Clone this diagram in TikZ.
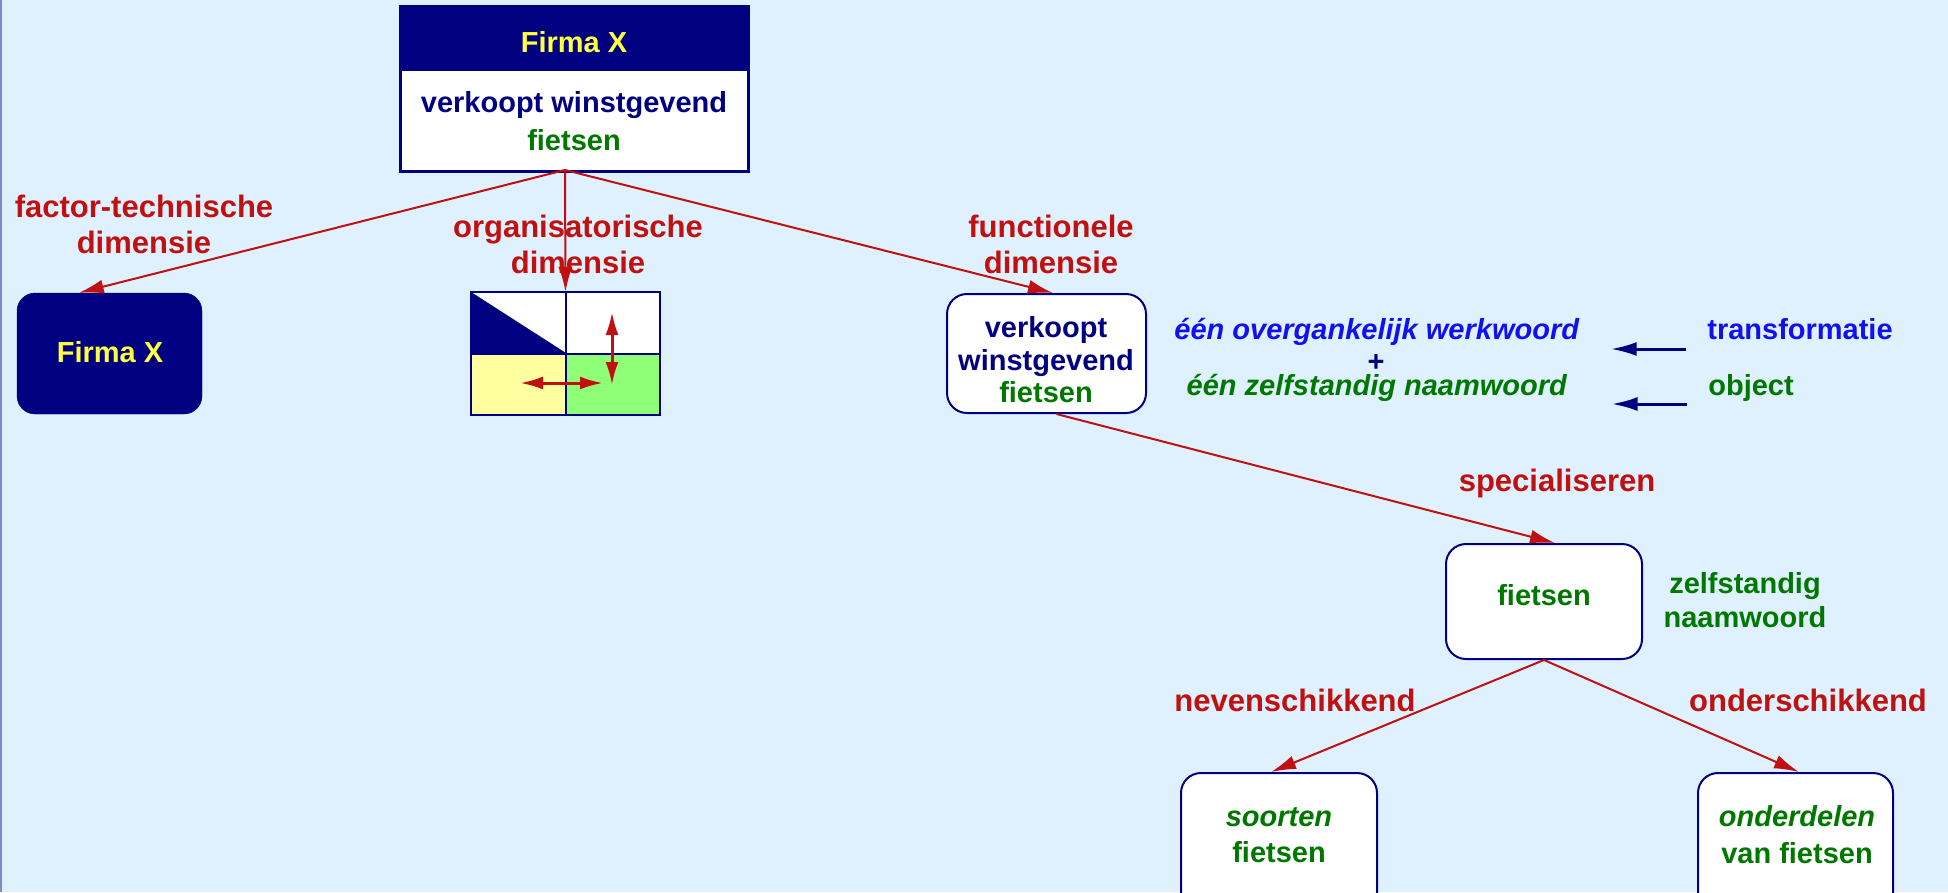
\documentclass[tikz,border=0pt]{standalone}
\usepackage{fontspec}
\setmainfont{Liberation Sans}
\usetikzlibrary{arrows.meta,calc}
\definecolor{bgblue}{RGB}{223,240,255}
\definecolor{navyc}{RGB}{0,0,128}
\definecolor{redc}{RGB}{192,16,16}
\definecolor{greenc}{RGB}{0,120,0}
\definecolor{bluec}{RGB}{16,16,240}
\definecolor{yellowc}{RGB}{255,255,64}
\definecolor{cellyellow}{RGB}{255,255,160}
\definecolor{cellgreen}{RGB}{144,255,120}
\definecolor{edgec}{RGB}{128,136,208}
\newcommand\boxfont{\fontsize{29}{33}\selectfont\bfseries}
\newcommand\lblfont{\fontsize{31}{36}\selectfont\bfseries}
\tikzset{
  whitebox/.style={draw=navyc, fill=white, line width=2pt, rounded corners=20pt, inner sep=0pt},
  txt/.style={inner sep=0pt, font=\boxfont, align=center},
  lbl/.style={inner sep=0pt, font=\lblfont, text=redc, align=center},
  redarrow/.style={draw=redc, line width=2pt, -{Latex[length=25pt,width=14pt]}},
  gridarrow/.style={draw=redc, line width=3pt, {Latex[length=23pt,width=13pt]}-{Latex[length=23pt,width=13pt]}},
  navyarrow/.style={draw=navyc, line width=3pt, -{Latex[length=26pt,width=14pt]}}
}
\begin{document}
\begin{tikzpicture}[x=1pt,y=-1pt]
\useasboundingbox (0,0) rectangle (1948,892);
\clip (0,0) rectangle (1948,892);
\fill[bgblue] (0,0) rectangle (1948,892);
\draw[edgec, line width=2pt] (1,0) -- (1,892);

% top box
\node[draw=navyc, fill=white, line width=2pt, minimum width=347pt, minimum height=164pt, inner sep=0pt] (top) at (574.5,89) {};
\node[fill=navyc, minimum width=347pt, minimum height=63pt, inner sep=0pt] (tophead) at (574.5,38.5) {};
\draw[navyc, line width=2pt] (top.north west) rectangle (top.south east);
\draw[navyc, line width=2pt] (401,70) -- (748,70);
\node[txt, text=yellowc, anchor=base] (tophtxt) at (574,52) {Firma X};
\node[txt, font=\fontsize{29}{38}\selectfont\bfseries] (toptxt) at (574,121) {\textcolor{navyc}{verkoopt winstgevend}\\\textcolor{greenc}{fietsen}};
\coordinate (o) at (565,170);

% Firma X dark box
\node[fill=navyc, draw=navyc, rounded corners=18pt, minimum width=185pt, minimum height=121pt, inner sep=0pt] (fx) at (109.5,353.5) {};
\node[txt, text=yellowc, anchor=base] (fxtxt) at (110,362) {Firma X};

% grid
\node[minimum width=189pt, minimum height=123pt, inner sep=0pt] (grid) at (565.5,353.5) {};
\fill[white] (471,292) rectangle (660,353);
\fill[navyc] (471,292) -- (566,353) -- (471,353) -- cycle;
\fill[cellyellow] (471,353) rectangle (566,415);
\fill[cellgreen] (566,353) rectangle (660,415);
\draw[navyc, line width=2pt] (grid.north west) rectangle (grid.south east);
\draw[navyc, line width=2pt] (grid.north) -- (grid.south);
\draw[navyc, line width=2pt] (grid.west) -- (grid.east);
\coordinate (ga1) at (612,312);
\coordinate (ga2) at (612,385);
\coordinate (gb1) at (520,383);
\coordinate (gb2) at (603,383);
\draw[gridarrow] (ga1) -- (ga2);
\draw[gridarrow] (gb1) -- (gb2);

% verkoopt box
\node[whitebox, minimum width=199pt, minimum height=119pt] (vb) at (1046.5,353.5) {};
\node[txt, font=\fontsize{29}{32.5}\selectfont\bfseries] (vbtxt) at (1046,360) {\textcolor{navyc}{verkoopt}\\\textcolor{navyc}{winstgevend}\\\textcolor{greenc}{fietsen}};

% fietsen box
\node[whitebox, minimum width=196pt, minimum height=115pt] (fb) at (1544,601.5) {};
\node[txt, text=greenc, anchor=base] (fbtxt) at (1544,605) {fietsen};
\node[txt, text=greenc, font=\fontsize{29}{34}\selectfont\bfseries] (zn) at (1745,600) {zelfstandig\\naamwoord};

% bottom boxes
\node[whitebox, minimum width=196pt, minimum height=150pt] (sb) at (1279,848) {};
\node[txt, text=greenc, font=\fontsize{29}{36}\selectfont\bfseries] (sbtxt) at (1279,835) {\textit{soorten}\\fietsen};
\node[whitebox, minimum width=195pt, minimum height=150pt] (ob) at (1795.5,848) {};
\node[txt, text=greenc, font=\fontsize{29}{37}\selectfont\bfseries] (obtxt) at (1797,835) {\textit{onderdelen}\\van fietsen};

% labels
\node[lbl] (l1) at (144,224) {factor-technische\\dimensie};
\node[lbl] (l2) at (578,244) {organisatorische\\dimensie};
\node[lbl] (l3) at (1051,244) {functionele\\dimensie};
\node[lbl, anchor=base] (l4) at (1557,491) {specialiseren};
\node[lbl, anchor=base] (l5) at (1295,711) {nevenschikkend};
\node[lbl, anchor=base] (l6) at (1808,711) {onderschikkend};

% right-hand texts
\node[txt, text=bluec, anchor=base] (ovw) at (1377,339) {\textit{één overgankelijk werkwoord}};
\node[txt, text=navyc] (plus) at (1376,363) {+};
\node[txt, text=greenc, anchor=base] (zvn) at (1377,395) {\textit{één zelfstandig naamwoord}};
\node[txt, text=bluec, anchor=base] (trans) at (1800,339) {transformatie};
\node[txt, text=greenc, anchor=base] (obj) at (1751,395) {object};
\draw[navyarrow, shorten <=21pt, shorten >=31pt] ([yshift=-10pt]trans.base west) -- ([yshift=-10pt]trans.base west -| ovw.east);
\draw[navyarrow, shorten <=21pt, shorten >=44pt] ([yshift=-9pt]obj.base west) -- ([yshift=-9pt]obj.base west -| zvn.east);

% red connectors
\draw[redarrow] (o) -- ([xshift=62pt]fx.north west);
\draw[redarrow] (o) -- (grid.north);
\draw[redarrow] (o) -- ([xshift=6.5pt]vb.north);
\draw[redarrow] ([xshift=10pt]vb.south) -- ([xshift=11pt]fb.north);
\draw[redarrow] (fb.south) -- ([xshift=-8pt]sb.north);
\draw[redarrow] (fb.south) -- ([xshift=3.5pt]ob.north);
\end{tikzpicture}
\end{document}
